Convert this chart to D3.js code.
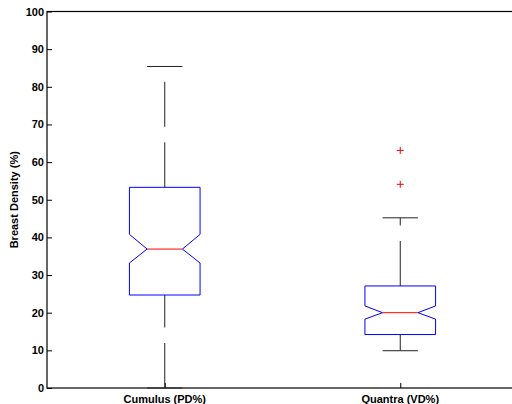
<!DOCTYPE html>
<html>
<head>
<meta charset="utf-8">
<script src="https://cdn.jsdelivr.net/npm/d3@7"></script>
<style>
  body { margin: 0; background: #fff; }
  text { font-family: "Liberation Sans", Arial, sans-serif; font-weight: bold; }
</style>
</head>
<body>
<div id="chart"></div>
<script>
const categories = ["Cumulus (PD%)", "Quantra (VD%)"];
const whiskerLow = [0, 9.9];
const q1 = [24.7, 14.2];
const notchLow = [33.2, 18.3];
const median = [36.9, 20.0];
const notchHigh = [40.8, 21.8];
const q3 = [53.3, 27.1];
const whiskerHigh = [85.4, 45.2];
const outliers = [[], [54.1, 63.1]];
const yTicks = [0, 10, 20, 30, 40, 50, 60, 70, 80, 90, 100];

const width = 512, height = 404;

const svg = d3.select("#chart")
    .append("svg")
    .attr("width", width)
    .attr("height", height);

// matlab style: positions 1..n, xlim [0.5, n+0.5]
const x = d3.scaleLinear()
    .domain([0.5, categories.length + 0.5])
    .range([47, 518]);

const y = d3.scaleLinear()
    .domain([0, 100])
    .range([388, 11.5]);

const boxHalf = x(1.15) - x(1);
const notchHalf = x(1.075) - x(1);
const capHalf = x(1.075) - x(1);

const boxes = categories.map((c, i) => ({
    name: c, pos: i + 1,
    wl: whiskerLow[i], q1: q1[i], nl: notchLow[i], med: median[i],
    nh: notchHigh[i], q3: q3[i], wh: whiskerHigh[i], out: outliers[i]
}));

// axes frame
svg.append("rect")
    .attr("x", x(0.5))
    .attr("y", y(100))
    .attr("width", x(categories.length + 0.5) - x(0.5))
    .attr("height", y(0) - y(100))
    .attr("fill", "none")
    .attr("stroke", "#000")
    .attr("stroke-width", 1.2);

const yAxis = svg.append("g")
    .attr("transform", `translate(${x(0.5)},0)`)
    .call(d3.axisLeft(y).tickValues(yTicks).tickSize(-5).tickPadding(3));
yAxis.select(".domain").remove();
yAxis.selectAll("text").attr("font-size", 11).attr("fill", "#000");

const xAxis = svg.append("g")
    .attr("transform", `translate(0,${y(0)})`)
    .call(d3.axisBottom(x).tickValues(boxes.map(d => d.pos)).tickSize(-5).tickFormat(() => ""));
xAxis.select(".domain").remove();

svg.selectAll(".xlabel")
    .data(boxes)
    .enter()
    .append("text")
    .attr("class", "xlabel")
    .attr("x", d => x(d.pos))
    .attr("y", 403)
    .attr("text-anchor", "middle")
    .attr("font-size", 11)
    .text(d => d.name);

svg.append("text")
    .attr("transform", `translate(18,${(y(0) + y(100)) / 2}) rotate(-90)`)
    .attr("text-anchor", "middle")
    .attr("font-size", 11)
    .text("Breast Density (%)");

const g = svg.selectAll(".box")
    .data(boxes)
    .enter()
    .append("g")
    .attr("class", "box");

// whiskers, drawn from low value to high value
g.append("line")
    .attr("x1", d => x(d.pos)).attr("x2", d => x(d.pos))
    .attr("y1", d => y(d.wl)).attr("y2", d => y(d.q1))
    .attr("stroke", "#222").attr("stroke-dasharray", "45,15.5");
g.append("line")
    .attr("x1", d => x(d.pos)).attr("x2", d => x(d.pos))
    .attr("y1", d => y(d.q3)).attr("y2", d => y(d.wh))
    .attr("stroke", "#222").attr("stroke-dasharray", "45,15.5");

// caps
["wl", "wh"].forEach(k => {
    g.append("line")
        .attr("x1", d => x(d.pos) - capHalf).attr("x2", d => x(d.pos) + capHalf)
        .attr("y1", d => y(d[k])).attr("y2", d => y(d[k]))
        .attr("stroke", "#222");
});

// notched box
g.append("path")
    .attr("d", d => {
        const c = x(d.pos);
        const pts = [
            [c - boxHalf, y(d.q1)], [c - boxHalf, y(d.nl)], [c - notchHalf, y(d.med)],
            [c - boxHalf, y(d.nh)], [c - boxHalf, y(d.q3)], [c + boxHalf, y(d.q3)],
            [c + boxHalf, y(d.nh)], [c + notchHalf, y(d.med)], [c + boxHalf, y(d.nl)],
            [c + boxHalf, y(d.q1)]
        ];
        return d3.line()(pts) + "Z";
    })
    .attr("fill", "none")
    .attr("stroke", "#0000ff")
    .attr("stroke-width", 1);

// median
g.append("line")
    .attr("x1", d => x(d.pos) - notchHalf).attr("x2", d => x(d.pos) + notchHalf)
    .attr("y1", d => y(d.med)).attr("y2", d => y(d.med))
    .attr("stroke", "#ff0000");

// outliers
g.selectAll(".out")
    .data(d => d.out.map(v => ({ pos: d.pos, v })))
    .enter()
    .append("path")
    .attr("class", "out")
    .attr("d", d => {
        const cx = x(d.pos), cy = y(d.v), s = 3.5;
        return `M${cx - s},${cy}H${cx + s}M${cx},${cy - s}V${cy + s}`;
    })
    .attr("stroke", "#ff0000")
    .attr("stroke-width", 1);
</script>
</body>
</html>
